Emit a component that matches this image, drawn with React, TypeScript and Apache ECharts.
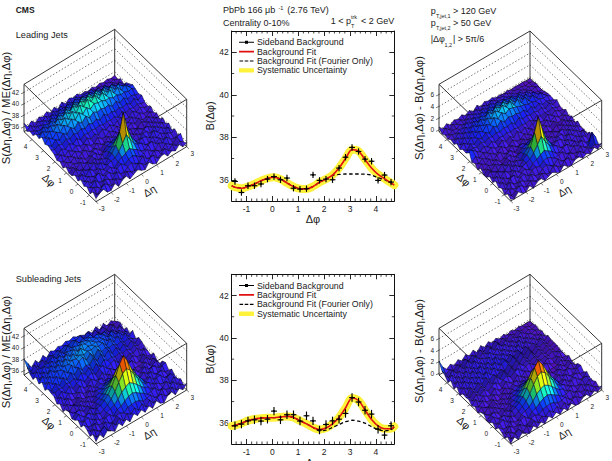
import React, { useEffect, useRef } from "react";
import * as echarts from "echarts";

const FONT = "'Liberation Sans', Arial, sans-serif";
const INK = "#1a1a1a";
const PHI_MIN = -Math.PI / 2;
const PHI_MAX = (3 * Math.PI) / 2;

// ---------- 1D panels ----------
const binPhi = [-1.445, -1.194, -0.942, -0.691, -0.44, -0.188, 0.063, 0.314, 0.565, 0.817, 1.068, 1.319, 1.571, 1.822, 2.073, 2.325, 2.576, 2.827, 3.079, 3.33, 3.581, 3.833, 4.084, 4.335, 4.587];
const fitPhi = [-1.571, ...binPhi, 4.712];

const sidebandLeading = [35.92, 35.4, 35.72, 35.72, 35.8, 36.03, 36.15, 36.0, 36.08, 35.6, 35.56, 35.58, 36.23, 35.97, 36.03, 36.0, 36.55, 37.06, 37.52, 37.33, 36.97, 36.87, 35.97, 36.22, 35.89];
const fitLeading = [35.72, 35.65, 35.6, 35.68, 35.8, 35.95, 36.07, 36.12, 36.03, 35.85, 35.68, 35.58, 35.57, 35.68, 35.88, 36.03, 36.22, 36.55, 37.0, 37.42, 37.35, 36.95, 36.55, 36.25, 36.05, 35.85, 35.75];
const fourierLeading = [35.72, 35.65, 35.6, 35.68, 35.8, 35.95, 36.07, 36.12, 36.03, 35.85, 35.68, 35.58, 35.57, 35.68, 35.88, 36.03, 36.2, 36.25, 36.27, 36.27, 36.27, 36.26, 36.22, 36.1, 36.0, 35.85, 35.75];

const sidebandSubleading = [35.86, 35.94, 36.09, 36.14, 36.08, 36.17, 36.55, 36.14, 36.38, 36.38, 36.08, 36.33, 36.09, 35.66, 35.92, 36.09, 36.17, 36.44, 37.19, 36.98, 36.59, 36.41, 35.7, 35.42, 35.86];
const fitSubleading = [35.85, 35.88, 35.98, 36.1, 36.18, 36.22, 36.24, 36.24, 36.27, 36.3, 36.25, 36.1, 35.95, 35.78, 35.68, 35.75, 35.95, 36.25, 36.7, 37.17, 37.05, 36.6, 36.15, 35.85, 35.72, 35.72, 35.82];
const fourierSubleading = [35.85, 35.88, 35.98, 36.1, 36.18, 36.22, 36.24, 36.24, 36.27, 36.3, 36.25, 36.1, 35.95, 35.78, 35.62, 35.65, 35.78, 35.92, 36.05, 36.12, 36.08, 35.98, 35.82, 35.68, 35.62, 35.68, 35.8];

const yMajor = [36, 38, 40, 42];
const yMinor = [37, 39, 41];
const xMajor = [-1, 0, 1, 2, 3, 4];
const xMinor = [-1.4, -1.2, -0.8, -0.6, -0.4, -0.2, 0.2, 0.4, 0.6, 0.8, 1.2, 1.4, 1.6, 1.8, 2.2, 2.4, 2.6, 2.8, 3.2, 3.4, 3.6, 3.8, 4.2, 4.4, 4.6];

const legendNames = ["Sideband Background", "Background Fit", "Background Fit (Fourier Only)", "Systematic Uncertainty"];

// ---------- 2D surfaces: rows run along delta-phi, columns along delta-eta, values in tenths ----------
const surfLeading = [
  [7,12,15,6,5,13,4,11,14,5,9,13,8,5,14,7,4,11,13,5,10,6,13,5,8],
  [13,4,9,15,10,4,12,7,5,13,8,6,15,10,5,12,13,4,7,13,5,12,6,10,4],
  [5,12,8,4,14,10,5,15,8,6,12,15,9,7,15,6,5,12,8,4,13,7,5,12,14],
  [12,6,15,8,5,12,13,6,12,16,10,16,18,14,8,11,13,6,5,12,8,15,7,4,7],
  [8,13,5,12,15,6,10,13,7,14,18,21,26,20,16,9,7,12,14,6,12,5,13,8,12],
  [14,6,12,7,6,13,7,12,15,16,23,33,45,32,22,16,14,7,6,13,7,12,6,14,5],
  [7,14,6,15,9,7,15,7,14,19,29,48,78,46,28,18,9,14,12,6,15,8,13,6,12],
  [12,5,13,8,7,14,6,13,8,16,22,32,43,30,21,15,8,6,13,12,5,13,7,12,6],
  [6,12,7,5,13,6,12,5,11,13,16,19,24,19,15,8,6,11,5,11,12,6,12,5,11],
  [5,11,4,12,6,5,11,12,5,6,13,14,16,13,7,5,11,4,11,6,4,11,5,11,4],
  [11,4,9,5,11,4,5,10,11,4,10,11,6,12,5,10,4,9,5,4,10,5,11,4,9],
  [4,10,5,11,4,10,11,4,5,11,5,4,11,5,11,4,10,5,11,5,11,4,5,10,5],
  [10,5,11,6,12,7,5,12,6,5,12,6,5,11,6,12,5,11,6,12,5,11,6,5,11],
  [7,13,6,12,7,13,8,7,14,8,13,7,14,8,13,7,12,14,7,6,13,7,12,7,6],
  [13,7,14,9,15,10,16,10,15,13,15,13,15,12,14,12,14,9,15,9,12,10,12,9,8],
  [15,12,16,13,18,14,19,16,20,16,21,17,21,15,22,15,18,14,17,13,16,11,17,10,15],
  [18,12,20,15,23,17,25,19,27,21,29,22,28,24,26,23,25,18,23,16,21,15,17,14,12],
  [15,22,16,24,19,28,22,31,25,34,27,35,28,34,31,31,27,28,24,25,21,22,19,20,15],
  [22,16,25,19,29,22,32,25,35,28,38,31,40,32,39,29,36,26,33,23,29,20,26,18,18],
  [15,23,17,25,20,29,23,32,26,35,29,36,30,37,29,34,26,32,23,29,20,26,18,15,14],
  [17,12,22,15,24,17,26,20,28,22,30,23,31,24,32,23,29,21,27,18,24,16,14,10,11],
  [10,14,11,17,13,20,14,21,16,23,17,24,18,25,19,21,19,21,15,21,13,15,8,11,4],
  [12,8,13,10,15,9,17,11,18,12,19,13,20,14,17,14,16,13,15,8,11,6,9,3,8],
  [7,13,6,12,8,13,7,14,8,15,7,14,8,15,9,12,10,12,6,8,5,7,4,5,2],
  [16,6,12,5,11,7,12,6,12,5,13,6,12,8,11,6,7,4,7,3,6,3,5,2,4],
];
const surfLeadingSub = [
  [5,2,10,4,2,9,1,8,10,3,6,9,5,2,10,4,2,8,9,3,7,3,10,3,10],
  [9,2,6,11,7,2,9,4,3,10,5,3,11,7,2,9,10,2,4,10,3,9,3,7,2],
  [3,9,5,2,10,7,3,11,5,3,9,12,7,4,11,3,2,9,5,2,10,4,3,22,10],
  [9,3,11,5,2,9,10,3,9,11,8,14,15,12,7,8,10,3,2,9,5,11,4,2,6],
  [5,10,2,9,11,3,7,10,5,12,15,19,23,18,14,7,4,9,11,3,9,2,10,5,9],
  [11,3,9,4,3,10,4,9,12,14,21,31,42,30,20,14,11,4,3,10,4,9,3,11,2],
  [4,10,3,11,6,4,11,4,12,17,27,47,70,46,26,16,7,11,9,3,11,5,10,3,4],
  [9,2,10,5,4,11,3,10,6,14,20,30,40,29,19,13,5,3,10,9,2,10,4,9,3],
  [3,9,4,2,10,3,9,2,8,11,14,17,21,16,13,6,3,8,2,8,9,3,9,2,8],
  [2,8,1,9,3,2,8,9,2,3,10,12,14,11,5,2,8,1,8,3,1,8,2,8,1],
  [8,1,6,2,8,1,2,7,8,1,7,9,4,10,2,7,1,6,2,1,7,2,8,1,7],
  [1,7,2,8,1,7,8,1,2,8,2,1,8,2,8,1,7,2,8,2,8,1,2,7,2],
  [7,2,8,3,9,4,2,9,3,2,9,3,2,8,3,9,2,8,3,9,2,8,3,2,8],
  [4,10,3,9,4,10,5,4,11,5,10,4,11,5,10,4,9,11,4,3,10,4,9,4,3],
  [20,15,10,5,11,6,12,6,11,9,11,9,11,8,10,8,10,5,11,5,8,6,8,5,4],
  [10,7,11,8,13,9,13,11,14,12,15,13,16,10,17,11,13,10,12,9,11,6,12,5,10],
  [11,5,13,8,15,10,17,12,20,15,22,16,21,18,19,16,17,11,16,9,14,8,10,7,5],
  [6,13,7,15,10,18,13,22,17,26,20,27,21,26,24,22,19,18,15,15,12,13,10,11,6],
  [11,5,14,8,17,11,20,15,24,19,29,23,31,24,30,20,26,16,22,12,18,9,15,7,6],
  [5,12,6,14,9,18,12,21,15,25,19,27,21,28,20,25,16,22,13,18,9,15,7,5,4],
  [8,4,12,6,14,8,16,11,18,13,21,15,22,16,23,15,20,12,17,9,14,7,5,3,2],
  [4,8,5,9,7,13,8,14,9,16,10,17,11,18,12,14,12,13,8,12,6,8,3,6,2],
  [6,2,7,5,9,4,11,6,12,7,13,8,14,9,11,9,10,7,9,4,7,3,5,2,4],
  [3,9,2,8,4,8,3,10,5,11,4,10,5,11,6,8,6,8,3,5,3,4,2,3,1],
  [10,3,8,2,7,4,8,3,8,2,9,3,8,5,7,3,4,2,4,1,3,2,3,1,2],
];
const surfSubleading = [
  [7,15,6,14,10,5,15,7,14,6,16,9,15,7,14,6,15,7,4,13,15,6,13,7,14],
  [14,5,12,16,5,14,7,15,6,15,10,17,9,16,7,15,6,12,14,7,5,14,5,12,6],
  [6,14,7,4,15,9,6,14,15,11,17,18,19,17,12,13,15,7,5,14,9,7,15,6,12],
  [12,5,15,9,7,14,15,8,16,18,23,27,29,26,21,17,11,12,15,6,7,14,6,14,7],
  [15,8,6,14,9,7,13,16,19,25,33,38,42,37,31,24,18,15,7,14,9,6,13,15,8],
  [7,14,15,7,15,10,14,18,24,33,45,56,61,55,44,33,23,16,14,7,14,15,7,6,14],
  [14,6,12,15,7,15,16,21,27,38,52,68,79,66,50,37,27,19,9,15,6,12,14,8,7],
  [9,15,7,6,14,9,13,17,23,32,43,54,59,53,42,31,22,15,8,7,15,7,5,14,15],
  [6,13,14,7,13,6,12,14,18,24,30,36,40,35,29,23,17,14,7,13,6,14,12,5,13],
  [14,7,4,14,6,13,6,13,14,18,21,25,27,24,20,17,14,12,4,7,14,5,7,13,4],
  [12,4,13,6,12,5,12,6,14,13,15,17,18,16,15,12,13,6,12,4,6,13,4,12,5],
  [4,12,6,3,13,6,4,13,6,11,13,9,15,7,14,6,4,12,3,6,4,6,12,4,12],
  [12,5,14,7,5,13,7,4,13,5,12,14,5,13,5,12,13,5,12,13,5,4,13,5,4],
  [7,15,6,14,9,6,15,8,6,15,9,6,15,6,14,8,5,14,7,5,13,7,5,13,6],
  [15,7,16,9,17,9,14,17,9,14,17,10,16,18,9,14,16,7,15,7,12,8,13,5,8],
  [16,12,15,13,17,14,18,11,20,13,21,12,20,11,19,14,16,12,15,11,14,9,13,8,12],
  [18,10,20,12,22,14,23,15,24,16,20,17,25,16,24,15,23,13,20,11,18,9,16,7,14],
  [11,21,13,23,15,25,17,27,18,26,29,20,28,18,27,19,22,18,20,15,17,12,15,11,7],
  [20,12,22,15,24,21,25,23,27,25,28,24,27,25,28,23,26,17,25,15,22,12,19,9,16],
  [12,21,13,24,16,26,18,28,20,29,21,31,23,27,24,26,22,24,16,23,13,20,10,14,6],
  [19,10,20,12,23,15,25,17,27,19,28,20,29,25,27,22,24,20,22,14,21,11,14,6,11],
  [10,19,11,21,13,22,14,24,16,23,20,24,21,25,22,24,20,22,17,18,9,14,6,13,3],
  [14,11,15,12,16,13,21,13,22,14,24,16,25,17,21,18,20,11,15,10,12,5,13,3,9],
  [22,8,17,9,18,10,18,14,18,15,19,16,20,17,21,12,19,8,15,6,13,4,9,5,7],
  [30,19,8,16,8,17,9,17,13,17,14,18,15,18,14,13,9,12,5,12,3,10,2,7,2],
];
const surfSubleadingSub = [
  [3,10,2,9,5,1,10,3,9,2,11,4,10,3,9,2,10,3,1,8,10,2,8,3,9],
  [9,2,7,11,1,9,3,10,2,10,5,12,5,11,3,10,2,7,9,3,2,9,1,7,2],
  [2,9,3,1,10,4,2,9,11,7,13,14,15,13,8,9,11,3,2,9,4,3,10,2,7],
  [7,1,10,4,3,9,11,4,12,14,19,23,25,22,17,13,7,7,10,2,3,9,2,9,3],
  [10,4,2,9,4,3,9,12,15,21,29,34,37,33,27,20,14,11,3,9,4,2,8,10,4],
  [3,9,11,3,10,5,10,14,20,29,41,51,55,50,40,29,19,12,10,3,9,10,3,2,9],
  [9,2,7,10,3,10,12,17,23,34,47,61,70,60,46,33,23,15,5,10,2,7,9,4,3],
  [4,10,3,2,9,4,9,13,19,28,39,49,53,48,38,27,18,11,4,3,10,3,2,9,10],
  [2,8,9,3,8,2,8,10,14,20,26,32,35,31,25,19,13,10,3,8,2,9,7,2,8],
  [9,3,1,9,2,8,2,9,10,14,17,21,23,20,16,13,10,7,1,3,9,2,3,8,1],
  [7,1,8,2,7,1,7,2,9,9,11,13,14,12,11,8,8,2,7,1,2,8,1,7,2],
  [1,7,2,1,8,2,1,8,2,7,9,5,10,3,9,2,1,7,1,2,1,2,7,1,7],
  [7,2,9,3,2,8,3,1,8,2,7,9,2,8,2,7,8,2,7,8,2,1,8,2,1],
  [3,10,2,9,4,2,10,3,2,10,4,2,10,2,9,4,2,9,3,2,8,3,2,8,2],
  [9,3,10,4,11,4,8,11,4,8,11,5,10,12,4,8,10,3,9,3,6,3,7,2,3],
  [8,3,10,4,11,5,12,3,13,4,14,4,13,3,12,5,9,4,8,3,7,2,6,1,5],
  [9,2,12,4,13,5,14,6,11,5,12,6,13,5,12,4,11,3,12,2,9,1,7,1,5],
  [2,11,4,13,5,14,6,15,6,14,5,13,15,6,14,5,13,4,12,2,9,3,7,1,5],
  [11,3,13,5,12,6,14,4,14,5,15,6,14,5,13,4,13,3,11,4,9,2,10,1,7],
  [3,12,4,13,4,14,5,15,5,14,4,15,6,13,5,11,4,13,2,11,3,9,1,7,1],
  [12,2,11,3,13,4,11,5,12,4,14,5,11,5,12,4,11,3,12,2,9,2,6,1,5],
  [4,13,3,12,3,12,4,14,5,11,6,13,5,12,3,12,3,10,2,10,1,7,2,5,1],
  [11,3,12,3,12,2,13,4,13,4,11,5,12,4,12,3,10,2,8,2,8,2,5,1,4],
  [14,4,8,3,9,4,11,4,10,4,11,4,11,3,11,2,8,3,7,2,6,2,4,1,2],
  [26,12,4,9,3,9,3,10,4,10,2,10,3,9,3,7,2,6,1,5,1,4,1,2,1],
];

const etaTickMajor = [-3, -2, -1, 0, 1, 2, 3];
const phiTickMajor = [-1, 0, 1, 2, 3, 4];
const ratioZTicks = [36, 38, 40, 42];
const subZTicks = [0, 2, 4, 6];

// Geometry of each 3D box
const panels = [
  { heights: surfLeading, base: 35, F: [96, 201.7], R: [186.7, 146.7], L: [24, 131.7], H: 47.4, zMin: 35.13, zs: 5.73, cMin: 35, cMax: 42.8, zTicks: ratioZTicks, title: "S(Δη,Δφ) / ME(Δη,Δφ)", titleX: 5.5, titleY: 108 },
  { heights: surfLeadingSub, base: -0.5, F: [510.7, 201], R: [601.7, 147.7], L: [439, 131.7], H: 47.4, zMin: -0.3, zs: 5.9, cMin: -0.5, cMax: 6.6, zTicks: subZTicks, title: "S(Δη,Δφ) - B(Δη,Δφ)", titleX: 419, titleY: 108 },
  { heights: surfSubleading, base: 35, F: [96, 444], R: [186.7, 390], L: [24, 375], H: 46.7, zMin: 35.26, zs: 5.78, cMin: 35, cMax: 42.9, zTicks: ratioZTicks, title: "S(Δη,Δφ) / ME(Δη,Δφ)", titleX: 5.5, titleY: 352 },
  { heights: surfSubleadingSub, base: -0.5, F: [510.7, 444], R: [601.7, 390], L: [439, 375], H: 46.7, zMin: -0.3, zs: 5.77, cMin: -0.5, cMax: 6.6, zTicks: subZTicks, title: "S(Δη,Δφ) - B(Δη,Δφ)", titleX: 419, titleY: 351 },
];

const palette: [number, number, number, number][] = [
  [0, 84, 12, 165], [0.13, 58, 24, 210], [0.22, 24, 30, 240], [0.3, 10, 70, 250], [0.38, 10, 170, 240],
  [0.46, 16, 225, 190], [0.54, 50, 240, 80], [0.66, 180, 245, 20], [0.8, 250, 228, 0], [0.9, 250, 112, 0], [1, 228, 0, 0],
];
function shadeColor(t: number, f: number) {
  const v = Math.max(0, Math.min(1, t));
  let k = 0;
  while (k < palette.length - 2 && v > palette[k + 1][0]) k++;
  const a = palette[k], b = palette[k + 1];
  const w = (v - a[0]) / (b[0] - a[0]);
  const c = [1, 2, 3].map((n) => Math.min(255, Math.round((a[n] + (b[n] - a[n]) * w) * f)));
  return `rgb(${c[0]},${c[1]},${c[2]})`;
}

function affine(p: any, u: number, v: number, z: number) {
  return [
    p.F[0] + u * (p.R[0] - p.F[0]) + v * (p.L[0] - p.F[0]),
    p.F[1] + u * (p.R[1] - p.F[1]) + v * (p.L[1] - p.F[1]) - (z - p.zMin) * p.zs,
  ];
}

function text(x: number, y: number, s: string, size: number, extra: any = {}) {
  const { rotation, ...style } = extra;
  return {
    type: "text", x, y, rotation: rotation || 0, silent: true,
    style: { text: s, fontSize: size, fontFamily: FONT, fill: INK, align: "left", verticalAlign: "middle", ...style },
  };
}
function seg(a: number[], b: number[], style: any) {
  return { type: "line", silent: true, shape: { x1: a[0], y1: a[1], x2: b[0], y2: b[1] }, style: { stroke: "#222", lineWidth: 0.9, ...style } };
}

function boxGraphics(p: any) {
  const out: any[] = [];
  const zTop = p.zMin + p.H / p.zs;
  const corners = [[0, 1], [1, 1], [1, 0]];
  const solid = (a: number[], b: number[]) => out.push(seg(a, b, {}));
  // top face and floor
  solid(affine(p, 0, 1, zTop), affine(p, 1, 1, zTop));
  solid(affine(p, 1, 1, zTop), affine(p, 1, 0, zTop));
  solid(affine(p, 0, 1, zTop), affine(p, 0, 0, zTop));
  solid(affine(p, 1, 0, zTop), affine(p, 0, 0, zTop));
  solid(affine(p, 0, 1, p.zMin), affine(p, 0, 0, p.zMin));
  solid(affine(p, 0, 0, p.zMin), affine(p, 1, 0, p.zMin));
  solid(affine(p, 0, 1, p.zMin), affine(p, 1, 1, p.zMin));
  solid(affine(p, 1, 1, p.zMin), affine(p, 1, 0, p.zMin));
  corners.forEach((c) => solid(affine(p, c[0], c[1], p.zMin), affine(p, c[0], c[1], zTop)));
  // dotted wall grid and z ticks
  p.zTicks.forEach((z: number) => {
    const a = affine(p, 0, 1, z), b = affine(p, 1, 1, z), c = affine(p, 1, 0, z);
    const dot = { lineDash: [1.4, 2], lineWidth: 0.7, stroke: "#333" };
    out.push(seg(a, b, dot), seg(b, c, dot));
    out.push(seg(a, [a[0] - 3, a[1] + 1.5], { lineWidth: 0.6 }));
    out.push(text(a[0] - 5, a[1], String(z), 6.5, { align: "right" }));
  });
  // floor axis ticks and labels
  const lx = p.L[0] - p.F[0], ly = p.L[1] - p.F[1], rx = p.R[0] - p.F[0], ry = p.R[1] - p.F[1];
  const ln = Math.hypot(lx, ly), rn = Math.hypot(rx, ry);
  etaTickMajor.forEach((e) => {
    const u = (e + 3) / 6;
    const a = affine(p, u, 0, p.zMin);
    out.push(seg(a, [a[0] - (lx / ln) * 3, a[1] - (ly / ln) * 3], { lineWidth: 0.6 }));
    out.push(text(a[0] + 5.7, a[1] + 7.2, String(e), 6.5, { align: "center" }));
  });
  phiTickMajor.forEach((f) => {
    const v = (f - PHI_MIN) / (PHI_MAX - PHI_MIN);
    const a = affine(p, 0, v, p.zMin);
    out.push(seg(a, [a[0] - (rx / rn) * 3, a[1] - (ry / rn) * 3], { lineWidth: 0.6 }));
    out.push(text(a[0] - 6.5, a[1] + 7, String(f), 6.5, { align: "center" }));
  });
  // axis names
  const mid = affine(p, 0, 0.42, p.zMin);
  out.push(text(mid[0] - 16.8, mid[1] + 7.7, "Δφ", 10.5, { rotation: -0.75, align: "center" }));
  const midE = affine(p, 0.5, 0, p.zMin);
  out.push(text(midE[0] + 8, midE[1] + 16.5, "Δη", 10.5, { rotation: 0.55, align: "center" }));
  out.push(text(p.titleX, p.titleY, p.title, 11.3, { rotation: Math.PI / 2, align: "center" }));
  return out;
}

const headerTexts = [
  text(15.7, 10.3, "CMS", 8.5, { fontWeight: "bold" }),
  text(15.7, 35, "Leading Jets", 9.2),
  text(15.7, 278.7, "Subleading Jets", 9.2),
  text(223, 10, "PbPb 166 μb", 9),
  text(278.5, 7.5, "-1", 5.5),
  text(287.3, 10, "(2.76 TeV)", 9),
  text(223, 23, "Centrality 0-10%", 9),
  text(330.7, 21, "1 < p", 9),
  text(351, 16.5, "trk", 5.5),
  text(351, 26, "T", 5.5),
  text(361, 21, "< 2 GeV", 9),
  text(430.7, 11, "p", 9),
  text(436, 15.5, "T,jet,1", 5.5),
  text(453, 11, "> 120 GeV", 9),
  text(430.7, 23, "p", 9),
  text(436, 27.5, "T,jet,2", 5.5),
  text(453, 23, "> 50 GeV", 9),
  text(430.7, 39, "|Δφ", 9),
  text(444.5, 45, "1,2", 5.5),
  text(453, 39, "| > 5π/6", 9),
  text(313, 462.5, "Δφ", 11, { align: "center" }),
];

const iconBox = "M0,0h.01v.01h-.01z M15,5h-.01v-.01h.01z ";
const icons = [
  iconBox + "M0,2.1H6V1H9V2.1H15V3H9V4H6V3H0Z",
  iconBox + "M0,1.7H15V3.3H0Z",
  iconBox + "M0.5,1.9h3.6v1.2h-3.6z M5.7,1.9h3.6v1.2h-3.6z M10.9,1.9h3.6v1.2h-3.6z",
  iconBox + "M0,0.3H15V4.7H0Z",
];
const iconColors = ["#000", "#e01010", "#000", "#fff23a"];

function legendFor(top: number) {
  return {
    left: 239, top, orient: "vertical", itemWidth: 15, itemHeight: 5, itemGap: 0.4, selectedMode: false,
    padding: 0, textStyle: { fontFamily: FONT, fontSize: 8.8, color: INK, lineHeight: 8, padding: [0, 0, 0, -2] },
    data: legendNames.map((name, i) => ({ name, icon: "path://" + icons[i], itemStyle: { color: iconColors[i], borderWidth: 0, opacity: 1 } })),
  };
}

function buildOption() {
  const grid: any[] = [
    { left: 231.7, top: 31, width: 162.6, height: 170 },
    { left: 231.7, top: 274.3, width: 162.6, height: 169.7 },
  ];
  const xAxis: any[] = [];
  const yAxis: any[] = [];
  const series: any[] = [];

  const lineS = { color: "#111", width: 1 };
  const tickS = { color: "#111", width: 0.9 };
  [0, 1].forEach((g) => {
    ["bottom", "top"].forEach((pos) => {
      xAxis.push({
        gridIndex: g, type: "value", position: pos, min: PHI_MIN, max: PHI_MAX,
        name: pos === "bottom" && g === 0 ? "Δφ" : "", nameLocation: "middle", nameGap: 12,
        nameTextStyle: { fontFamily: FONT, fontSize: 11, color: INK },
        axisLine: { show: true, onZero: false, lineStyle: lineS },
        axisTick: { show: true, inside: true, length: 5, customValues: xMajor, lineStyle: tickS },
        axisLabel: { show: pos === "bottom", customValues: xMajor, margin: 3, fontFamily: FONT, fontSize: 8.5, color: INK },
        splitLine: { show: false },
      });
    });
    ["left", "right"].forEach((pos) => {
      yAxis.push({
        gridIndex: g, type: "value", position: pos, min: 35, max: 43,
        name: pos === "left" ? "B(Δφ)" : "", nameLocation: "middle", nameGap: 14,
        nameTextStyle: { fontFamily: FONT, fontSize: 11, color: INK },
        axisLine: { show: true, onZero: false, lineStyle: lineS },
        axisTick: { show: true, inside: true, length: 5, customValues: yMajor, lineStyle: tickS },
        axisLabel: { show: pos === "left", customValues: yMajor, margin: 3, fontFamily: FONT, fontSize: 8.5, color: INK },
        splitLine: { show: false },
      });
    });
    const axisIdx = { xAxisIndex: g * 2, yAxisIndex: g * 2 };
    const side = g === 0
      ? { sb: sidebandLeading, fit: fitLeading, four: fourierLeading, err: 0.15 }
      : { sb: sidebandSubleading, fit: fitSubleading, four: fourierSubleading, err: 0.2 };
    const pairs = (ys: number[]) => ys.map((y, i) => [fitPhi[i], y]);
    series.push({
      type: "line", name: legendNames[3], ...axisIdx, data: pairs(side.fit), smooth: 0.3, showSymbol: false, silent: true, z: 3,
      lineStyle: { color: "#fff23a", width: 8, cap: "round" }, itemStyle: { color: "#fff23a" },
    });
    series.push({
      type: "line", name: legendNames[2], ...axisIdx, data: pairs(side.four), smooth: 0.3, showSymbol: false, silent: true, z: 4,
      lineStyle: { color: "#000", width: 1.3, type: [3.5, 2.5] }, itemStyle: { color: "#000" },
    });
    series.push({
      type: "line", name: legendNames[1], ...axisIdx, data: pairs(side.fit), smooth: 0.3, showSymbol: false, silent: true, z: 5,
      lineStyle: { color: "#e01010", width: 1.6 }, itemStyle: { color: "#e01010" },
    });
    series.push({
      type: "custom", name: legendNames[0], ...axisIdx, silent: true, clip: false, z: 6,
      data: side.sb.map((y, i) => [binPhi[i], y, side.err]),
      encode: { x: 0, y: 1 },
      renderItem: (_: any, api: any) => {
        const x = api.value(0), y = api.value(1), e = api.value(2);
        const c = api.coord([x, y]);
        const t = api.coord([x, y + e]);
        const b = api.coord([x, y - e]);
        const st = { stroke: "#000", lineWidth: 1.15 };
        return {
          type: "group", children: [
            { type: "line", shape: { x1: c[0], y1: t[1], x2: c[0], y2: b[1] }, style: st },
            { type: "line", shape: { x1: c[0] - 2.9, y1: c[1], x2: c[0] + 2.9, y2: c[1] }, style: st },
            { type: "circle", shape: { cx: c[0], cy: c[1], r: 1 }, style: { fill: "#000" } },
          ],
        };
      },
    });
    // minor ticks on all four sides
    series.push({
      type: "custom", ...axisIdx, silent: true, clip: false, data: xMinor.map((v) => [v, 39]), encode: { x: 0, y: 1 },
      renderItem: (_: any, api: any) => {
        const b = api.coord([api.value(0), 35]), t = api.coord([api.value(0), 43]);
        const st = { stroke: "#111", lineWidth: 0.8 };
        return {
          type: "group", children: [
            { type: "line", shape: { x1: b[0], y1: b[1], x2: b[0], y2: b[1] - 2.5 }, style: st },
            { type: "line", shape: { x1: t[0], y1: t[1], x2: t[0], y2: t[1] + 2.5 }, style: st },
          ],
        };
      },
    });
    series.push({
      type: "custom", ...axisIdx, silent: true, clip: false, data: yMinor.map((v) => [1.5, v]), encode: { x: 0, y: 1 },
      renderItem: (_: any, api: any) => {
        const l = api.coord([PHI_MIN, api.value(1)]), r = api.coord([PHI_MAX, api.value(1)]);
        const st = { stroke: "#111", lineWidth: 0.8 };
        return {
          type: "group", children: [
            { type: "line", shape: { x1: l[0], y1: l[1], x2: l[0] + 2.5, y2: l[1] }, style: st },
            { type: "line", shape: { x1: r[0], y1: r[1], x2: r[0] - 2.5, y2: r[1] }, style: st },
          ],
        };
      },
    });
  });

  // 3D surfaces: hidden cartesian scales for eta/phi, sheared into the box
  panels.forEach((p: any) => {
    const gi = grid.length;
    grid.push({ left: p.L[0], top: p.F[1] - 110, width: p.R[0] - p.L[0], height: 110, show: false });
    xAxis.push({ gridIndex: gi, type: "value", min: -3, max: 3, show: false });
    yAxis.push({ gridIndex: gi, type: "value", min: PHI_MIN, max: PHI_MAX, show: false });
    const idx = { xAxisIndex: xAxis.length - 1, yAxisIndex: yAxis.length - 1 };
    const n = p.heights.length;
    const dEta = 6 / (n - 1), dPhi = (PHI_MAX - PHI_MIN) / (n - 1);
    const data: number[][] = [];
    const z = (j: number, i: number) => p.base + p.heights[j][i] / 10;
    for (let j = n - 2; j >= 0; j--) {
      for (let i = n - 2; i >= 0; i--) {
        const e0 = -3 + i * dEta, f0 = PHI_MIN + j * dPhi;
        data.push([e0, f0, e0 + dEta, f0 + dPhi, z(j, i), z(j, i + 1), z(j + 1, i + 1), z(j + 1, i)]);
      }
    }
    series.push({
      type: "custom", ...idx, silent: true, clip: false, z: 3, data, encode: { x: 0, y: 1 },
      renderItem: (params: any, api: any) => {
        const cs = params.coordSys;
        const proj = (eta: number, phi: number, zz: number) => {
          const q = api.coord([eta, phi]);
          return affine(p, (q[0] - cs.x) / cs.width, 1 - (q[1] - cs.y) / cs.height, zz);
        };
        const e0 = api.value(0), f0 = api.value(1), e1 = api.value(2), f1 = api.value(3);
        const a = api.value(4), b = api.value(5), c = api.value(6), d = api.value(7);
        const level = ((a + b + c + d) / 4 + Math.max(a, b, c, d)) / 2;
        const dzU = ((b + c - a - d) / 2) * p.zs;
        const dzV = ((c + d - a - b) / 2) * p.zs;
        const f = Math.max(0.72, Math.min(1.3, 1.04 - 0.06 * dzU + 0.02 * dzV));
        return {
          type: "polygon",
          shape: { points: [proj(e0, f0, a), proj(e1, f0, b), proj(e1, f1, c), proj(e0, f1, d)] },
          style: { fill: shadeColor((level - p.cMin) / (p.cMax - p.cMin), f), stroke: "#05051e", lineWidth: 0.5 },
        };
      },
    });
    // front vertical edge of the box, drawn over the surface
    series.push({
      type: "custom", ...idx, silent: true, clip: false, z: 4, data: [[-3, PHI_MIN]], encode: { x: 0, y: 1 },
      renderItem: () => {
        const a = affine(p, 0, 0, p.zMin), b = affine(p, 0, 0, p.zMin + p.H / p.zs);
        return { type: "line", shape: { x1: a[0], y1: a[1], x2: b[0], y2: b[1] }, style: { stroke: "#000", lineWidth: 0.6, opacity: 0.4 } };
      },
    });
  });

  const elements = [...headerTexts, ...panels.flatMap((p) => boxGraphics(p))];
  return {
    animation: false,
    backgroundColor: "#fff",
    textStyle: { fontFamily: FONT },
    legend: [legendFor(37.7), legendFor(281)],
    grid, xAxis, yAxis, series,
    graphic: { elements },
  };
}

export default function App() {
  const ref = useRef<HTMLDivElement>(null);
  useEffect(() => {
    const chart = echarts.init(ref.current as HTMLDivElement, undefined, { renderer: "svg" });
    chart.setOption(buildOption() as any);
    return () => chart.dispose();
  }, []);
  return <div ref={ref} style={{ position: "fixed", left: 0, top: 0, width: 612, height: 461 }} />;
}
